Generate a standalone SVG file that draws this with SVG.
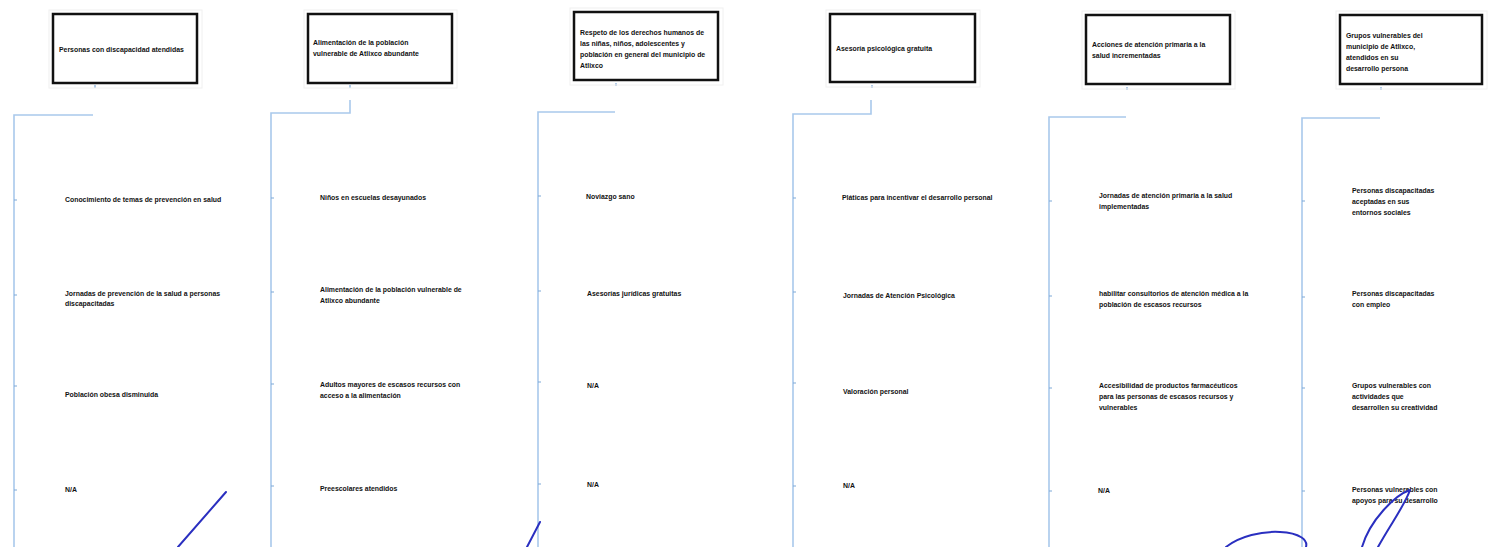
<svg xmlns="http://www.w3.org/2000/svg" width="1490" height="547" viewBox="0 0 1490 547">
<style>
.box{fill:#fff;stroke:#111;stroke-width:2.5}
.halo{fill:none;stroke:#f0f0f0;stroke-width:1}
.t{font-family:"Liberation Sans",Arial,sans-serif;font-weight:bold;font-size:6.9px;fill:#111}
.c{fill:none;stroke:#a9c9ec;stroke-width:1.6}
.tk{fill:none;stroke:#7fa9d8;stroke-width:1.2}
.sig{fill:none;stroke:#2a2fc0;stroke-width:2;stroke-linecap:round}
</style>
<rect width="1490" height="547" fill="#fff"/>
<g id="connectors">
<path class="c" d="M93,115 H14 V547"/>
<path class="c" d="M350,100 V113 H271 V547"/>
<path class="c" d="M615,112 H538 V547"/>
<path class="c" d="M871,100 V114 H793 V547"/>
<path class="c" d="M1126,117 H1049 V547"/>
<path class="c" d="M1380,118 H1302 V547"/>
<path class="tk" d="M95,85 v3 M350,85 v3 M616,83 v3 M872,85 v3 M1127,87 v3 M1381,87 v3"/>
<path class="tk" d="M14,200 h3 M14,295 h3 M14,386 h3 M14,490 h3"/>
<path class="tk" d="M271,198 h3 M271,292 h3 M271,384 h3 M271,486 h3"/>
<path class="tk" d="M538,196 h3 M538,291 h3 M538,382 h3 M538,484 h3"/>
<path class="tk" d="M793,198 h3 M793,292 h3 M793,383 h3 M793,486 h3"/>
<path class="tk" d="M1049,201 h3 M1049,296 h3 M1049,388 h3 M1049,491 h3"/>
<path class="tk" d="M1302,201 h3 M1302,297 h3 M1302,388 h3 M1302,491 h3"/>
</g>
<g id="n1">
<rect class="halo" x="49" y="10" width="153" height="78"/>
<rect class="box" x="53" y="14" width="144" height="69"/>
<text class="t" x="59" y="52">Personas con discapacidad atendidas</text>
</g>
<g id="n2">
<rect class="halo" x="304" y="10" width="153" height="78"/>
<rect class="box" x="308" y="14" width="144" height="69"/>
<text class="t" x="313" y="45">Alimentación de la población</text>
<text class="t" x="313" y="56">vulnerable de Atlixco abundante</text>
</g>
<g id="n3">
<rect class="halo" x="570" y="8" width="153" height="77"/>
<rect class="box" x="574" y="12" width="144" height="68"/>
<text class="t" x="580" y="35">Respeto de los derechos humanos de</text>
<text class="t" x="580" y="46">las niñas, niños, adolescentes y</text>
<text class="t" x="580" y="57">población en general del municipio de</text>
<text class="t" x="580" y="68">Atlixco</text>
</g>
<g id="n4">
<rect class="halo" x="826" y="10" width="154" height="77"/>
<rect class="box" x="830" y="14" width="145" height="68"/>
<text class="t" x="836" y="51">Asesoría psicológica gratuita</text>
</g>
<g id="n5">
<rect class="halo" x="1082" y="11" width="153" height="78"/>
<rect class="box" x="1086" y="15" width="144" height="69"/>
<text class="t" x="1092" y="47">Acciones de atención primaria a la</text>
<text class="t" x="1092" y="58">salud incrementadas</text>
</g>
<g id="n6">
<rect class="halo" x="1336" y="11" width="151" height="78"/>
<rect class="box" x="1340" y="15" width="142" height="69"/>
<text class="t" x="1346" y="38">Grupos vulnerables del</text>
<text class="t" x="1346" y="49">municipio de Atlixco,</text>
<text class="t" x="1346" y="60">atendidos en su</text>
<text class="t" x="1346" y="71">desarrollo persona</text>
</g>
<g id="c1">
<text class="t" x="65" y="202">Conocimiento de temas de prevención en salud</text>
<text class="t" x="65" y="296">Jornadas de prevención de la salud a personas</text>
<text class="t" x="65" y="306">discapacitadas</text>
<text class="t" x="65" y="397">Población obesa disminuida</text>
<text class="t" x="65" y="492">N/A</text>
</g>
<g id="c2">
<text class="t" x="320" y="200">Niños en escuelas desayunados</text>
<text class="t" x="320" y="292">Alimentación de la población vulnerable de</text>
<text class="t" x="320" y="303">Atlixco abundante</text>
<text class="t" x="320" y="387">Adultos mayores de escasos recursos con</text>
<text class="t" x="320" y="398">acceso a la alimentación</text>
<text class="t" x="320" y="491">Preescolares atendidos</text>
</g>
<g id="c3">
<text class="t" x="586" y="199">Noviazgo sano</text>
<text class="t" x="587" y="296">Asesorías jurídicas gratuitas</text>
<text class="t" x="587" y="388">N/A</text>
<text class="t" x="587" y="487">N/A</text>
</g>
<g id="c4">
<text class="t" x="842" y="200">Pláticas para incentivar el desarrollo personal</text>
<text class="t" x="843" y="298">Jornadas de Atención Psicológica</text>
<text class="t" x="843" y="394">Valoración personal</text>
<text class="t" x="843" y="488">N/A</text>
</g>
<g id="c5">
<text class="t" x="1099" y="198">Jornadas de atención primaria a la salud</text>
<text class="t" x="1099" y="209">implementadas</text>
<text class="t" x="1099" y="296">habilitar consultorios de atención médica a la</text>
<text class="t" x="1099" y="307">población de escasos recursos</text>
<text class="t" x="1099" y="388">Accesibilidad de productos farmacéuticos</text>
<text class="t" x="1099" y="399">para las personas de escasos recursos y</text>
<text class="t" x="1099" y="410">vulnerables</text>
<text class="t" x="1098" y="493">N/A</text>
</g>
<g id="c6">
<text class="t" x="1352" y="193">Personas discapacitadas</text>
<text class="t" x="1352" y="204">aceptadas en sus</text>
<text class="t" x="1352" y="215">entornos sociales</text>
<text class="t" x="1352" y="296">Personas discapacitadas</text>
<text class="t" x="1352" y="307">con empleo</text>
<text class="t" x="1352" y="388">Grupos vulnerables con</text>
<text class="t" x="1352" y="399">actividades que</text>
<text class="t" x="1352" y="410">desarrollen su creatividad</text>
<text class="t" x="1352" y="492">Personas vulnerables con</text>
<text class="t" x="1352" y="503">apoyos para su desarrollo</text>
</g>
<g id="signatures">
<path class="sig" d="M226,492 L178,547"/>
<path class="sig" d="M540,522 L527,547"/>
<path class="sig" d="M1226,547 C1240,536 1262,531 1280,532 C1300,533 1308,540 1306,547"/>
<path class="sig" d="M1410,490 C1395,495 1370,520 1362,547 M1410,490 C1405,505 1390,525 1378,547"/>
</g>
</svg>
